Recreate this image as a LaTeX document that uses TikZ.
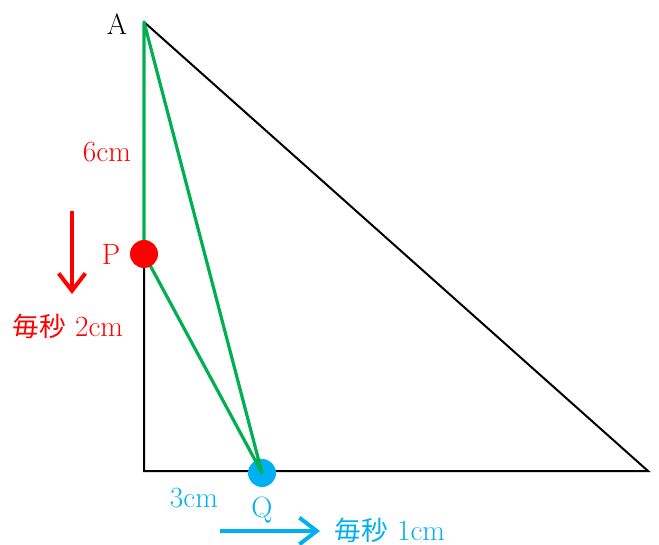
\documentclass[tikz,border=0pt]{standalone}
\usepackage{fontspec}
\newfontfamily\cjk{Noto Sans CJK JP}
\usetikzlibrary{arrows.meta}
\definecolor{cred}{HTML}{FF0000}
\definecolor{cgreen}{HTML}{00B050}
\definecolor{cblue}{HTML}{00B0F0}
\tikzset{
  blk/.style={line width=1.5pt, black},
  grn/.style={line width=2.4pt, cgreen, line join=round},
  lbl/.style={font=\fontsize{22}{26}\selectfont, inner sep=0pt},
  mvarrow/.style={line width=3pt, -{Straight Barb[length=13pt, width=20pt, line width=3pt]}},
}
\begin{document}
\begin{tikzpicture}[x=0.75pt, y=-0.75pt]
\useasboundingbox (0,0) rectangle (659,545);
\coordinate (A) at (144,22);
\coordinate (B) at (144,471);
\coordinate (C) at (648,471);
\coordinate (P) at (144,254);
\coordinate (Q) at (262,473);
\draw[blk] (A) -- (C) -- (B) -- (P);
\fill[cblue] (Q) circle (14);
\draw[grn] (A) -- (P) -- (Q) -- cycle;
\fill[cred] (P) circle (14);
\node[lbl] (lA) at (117,24) {A};
\node[lbl, text=cred] (l6) at (107,152) {6cm};
\node[lbl, text=cred] (lP) at (111,254) {P};
\node[lbl, text=cred] (ls2) at (68,326) {{\cjk\fontsize{20}{24}\selectfont 毎秒} 2cm};
\node[lbl, text=cblue] (l3) at (194,498) {3cm};
\node[lbl, text=cblue] (lQ) at (262,510) {Q};
\node[lbl, text=cblue] (ls1) at (390,530) {{\cjk\fontsize{20}{24}\selectfont 毎秒} 1cm};
\coordinate (r1) at (72,211);
\coordinate (r2) at (72,294);
\coordinate (b1) at (220,531);
\coordinate (b2) at (320,531);
\draw[mvarrow, cred] (r1) -- (r2);
\draw[mvarrow, cblue] (b1) -- (b2);
\end{tikzpicture}
\end{document}
